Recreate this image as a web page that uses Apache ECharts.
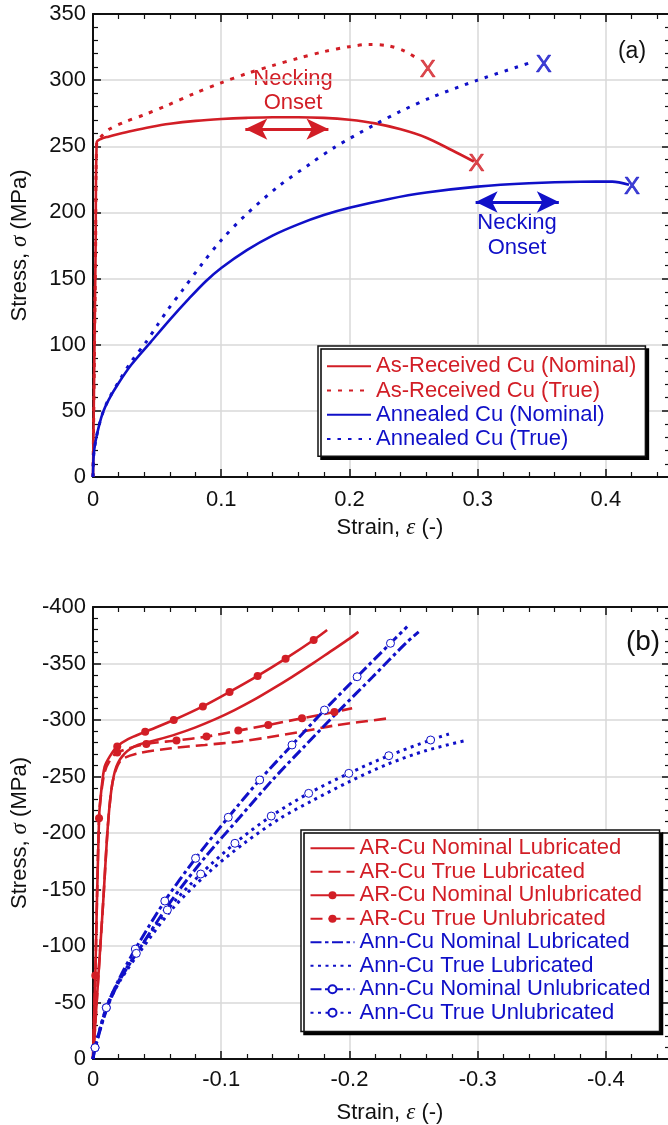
<!DOCTYPE html>
<html><head><meta charset="utf-8">
<script src="https://cdn.jsdelivr.net/npm/echarts@6/dist/echarts.min.js"></script>
<style>html,body{margin:0;padding:0;background:#fff}#c{width:668px;height:1125px}</style>
</head><body><div id="c"></div>
<script>
// ================= Panel (a): tension =================
const arNomStrain  = [0, 0.001, 0.002, 0.0029, 0.006, 0.012, 0.02, 0.03, 0.045, 0.06, 0.08, 0.1, 0.12, 0.14, 0.16, 0.18, 0.2, 0.22, 0.24, 0.26, 0.28, 0.297];
const arNomStress  = [0, 85, 170, 253, 255.5, 257.3, 259.3, 261.6, 264.6, 267, 269.2, 270.6, 271.5, 272, 272, 271.5, 270, 267.3, 262.8, 256.5, 247, 238.5];
const arTrueStrain = [0, 0.001, 0.002, 0.0029, 0.006, 0.013, 0.025, 0.04, 0.058, 0.078, 0.1, 0.12, 0.14, 0.16, 0.18, 0.2, 0.215, 0.23, 0.243, 0.255];
const arTrueStress = [0, 85, 170, 253, 257, 263, 268.5, 273.8, 281, 289.5, 298, 305, 311, 316.5, 321.5, 325.3, 327, 326, 322, 315];
const annNomStrain = [0, 0.0005, 0.002, 0.005, 0.0078, 0.012, 0.02, 0.03, 0.045, 0.06, 0.075, 0.088, 0.1, 0.12, 0.14, 0.16, 0.18, 0.2, 0.23, 0.26, 0.3, 0.34, 0.38, 0.405, 0.418];
const annNomStress = [0, 16, 27, 40, 49, 58, 71, 85, 102, 119, 135, 148, 158, 171.5, 182.5, 191, 198, 203.5, 210, 215, 219.5, 222, 223.2, 223.3, 221];
const annTrueStrain = [0, 0.0005, 0.002, 0.005, 0.0078, 0.012, 0.02, 0.03, 0.041, 0.05, 0.058, 0.07, 0.085, 0.1, 0.119, 0.145, 0.169, 0.188, 0.219, 0.24, 0.264, 0.3, 0.342];
const annTrueStress = [0, 16, 27, 40, 49, 58.5, 72, 87.5, 101.5, 114.5, 126, 141.5, 161, 179, 198, 220, 236.5, 249, 266, 276.5, 287, 300, 313.5];
// fracture marks (X)
const arFracStrain  = [0.261, 0.299];
const arFracStress  = [307.7, 236.6];
const annFracStrain = [0.3516, 0.4203];
const annFracStress = [311.4, 219.2];
// necking-onset arrows (tip to tip)
const arArrowStrain  = [0.1188, 0.1836];
const arArrowStress  = 263;
const annArrowStrain = [0.2984, 0.3633];
const annArrowStress = 207.9;
const legendA = ['As-Received Cu (Nominal)', 'As-Received Cu (True)', 'Annealed Cu (Nominal)', 'Annealed Cu (True)'];

// ================= Panel (b): compression =================
const arNomLubStrain  = [0, -0.004, -0.008, -0.0115, -0.0143, -0.0182, -0.0248, -0.035, -0.05, -0.065, -0.08, -0.095, -0.11, -0.125, -0.14, -0.155, -0.17, -0.185, -0.2, -0.207];
const arNomLubStress  = [0, -70, -140, -205, -238, -258.7, -270.5, -278, -282.5, -287.5, -293.5, -300.5, -308.5, -317.5, -327.5, -338, -349, -360.5, -372, -378];
const arTrueLubStrain = [0, -0.004, -0.008, -0.0115, -0.0143, -0.017, -0.0221, -0.0352, -0.0612, -0.0873, -0.1133, -0.1357, -0.1617, -0.1877, -0.2307];
const arTrueLubStress = [0, -70, -140, -205, -238, -253, -264.6, -270.5, -275, -277.9, -280.8, -284.5, -289.5, -295, -301.5];
const arNomUnlStrain  = [0, -0.0018, -0.0047, -0.0065, -0.0091, -0.013, -0.0189, -0.0273, -0.0407, -0.063, -0.0857, -0.1065, -0.1284, -0.1502, -0.1721, -0.1826];
const arNomUnlStress  = [0, -74, -213, -238, -258.7, -267.6, -276.5, -283, -289.5, -300, -312, -324.8, -339, -354.3, -370.8, -379.6];
const arNomUnlMarks   = [1, 2, 6, 8, 9, 10, 11, 12, 13, 14];
const arTrueUnlStrain = [0, -0.0018, -0.0047, -0.0065, -0.0091, -0.013, -0.0189, -0.0416, -0.0651, -0.0885, -0.1133, -0.1367, -0.163, -0.1883, -0.2021];
const arTrueUnlStress = [0, -74, -213, -236, -254, -264, -271.2, -278.8, -281.8, -285.3, -290.6, -295.6, -301.5, -307.1, -310.4];
const arTrueUnlMarks  = [6, 7, 8, 9, 10, 11, 12, 13];
const annNomLubStrain  = [0, -0.0017, -0.011, -0.021, -0.036, -0.061, -0.087, -0.1145, -0.14, -0.166, -0.1925, -0.218, -0.244, -0.254];
const annNomLubStress  = [0, -10, -45, -70, -97, -140, -178, -214, -247, -278, -309, -338, -368, -378];
const annTrueLubStrain = [0, -0.0017, -0.011, -0.021, -0.036, -0.062, -0.09, -0.118, -0.146, -0.17, -0.2, -0.23, -0.26, -0.2893];
const annTrueLubStress = [0, -10, -46, -69, -94, -133, -165, -191, -213, -228, -245.5, -261, -273, -281.5];
const annNomUnlStrain  = [0, -0.0016, -0.0104, -0.02, -0.033, -0.056, -0.08, -0.1055, -0.13, -0.1552, -0.1805, -0.206, -0.232, -0.245];
const annNomUnlStress  = [0, -10, -45.4, -70, -97.3, -139.8, -177.6, -213.9, -246.9, -277.9, -308.8, -338.3, -367.9, -382.6];
const annNomUnlMarks   = [1, 2, 4, 5, 6, 7, 8, 9, 10, 11, 12];
const annTrueUnlStrain = [0, -0.0016, -0.0104, -0.02, -0.0338, -0.058, -0.084, -0.1107, -0.139, -0.1682, -0.1995, -0.2307, -0.2633, -0.2776];
const annTrueUnlStress = [0, -10, -45.4, -69, -93.5, -131.9, -163.7, -190.9, -215, -235.1, -252.8, -268.4, -282.3, -287.6];
const annTrueUnlMarks  = [1, 2, 4, 5, 6, 7, 8, 9, 10, 11, 12];
const legendB = ['AR-Cu Nominal Lubricated', 'AR-Cu True Lubricated', 'AR-Cu Nominal Unlubricated', 'AR-Cu True Unlubricated',
                 'Ann-Cu Nominal Lubricated', 'Ann-Cu True Lubricated', 'Ann-Cu Nominal Unlubricated', 'Ann-Cu True Unlubricated'];
const legendBMarkers = [false, false, true, true, false, false, true, true];

// ================= styling =================
const RED = '#d21e26', BLUE = '#1010c8', INK = '#111';
const FONT = "'Liberation Sans', Arial, Helvetica, sans-serif";
const SERIF = "'Liberation Serif', 'DejaVu Serif', serif";

function fmt(v) {
  const r = Math.round(v * 1000) / 1000;
  if (Math.abs(Math.abs(r) - 0.45) < 1e-6) return '';
  return String(r);
}
function pts(xs, ys, marks) {
  return xs.map((x, i) => (marks && marks.indexOf(i) >= 0) ? { value: [x, ys[i]] } : { value: [x, ys[i]], symbol: 'none' });
}
function line(name, gi, xs, ys, color, type, width, marks, markerFill) {
  return {
    type: 'line', name, xAxisIndex: gi * 2, yAxisIndex: gi * 2,
    data: pts(xs, ys, marks), smooth: 0.3,
    showAllSymbol: true, symbol: marks ? 'circle' : 'none', symbolSize: 8,
    lineStyle: { color, type, width, cap: 'butt' },
    itemStyle: marks ? { color: markerFill || color, borderColor: color, borderWidth: markerFill ? 1 : 0 } : { color },
    emphasis: { disabled: true }, z: 3
  };
}
function mainX(gi, min, max, inverse, nameGap, margin) {
  return {
    type: 'value', gridIndex: gi, min, max, inverse, splitNumber: 5, position: 'bottom',
    name: 'Strain, {e|ε} (-)', nameLocation: 'middle', nameGap,
    nameTextStyle: { fontFamily: FONT, fontSize: 22, color: INK, padding: [0, 0, 0, 17],
      rich: { e: { fontFamily: SERIF, fontStyle: 'italic', fontSize: 23, color: INK } } },
    axisLine: { show: true, onZero: false, lineStyle: { color: INK, width: 2 } },
    axisTick: { show: true, inside: true, length: 8, lineStyle: { color: INK, width: 1.5 } },
    minorTick: { show: true, splitNumber: 5, length: 5, lineStyle: { color: INK, width: 1.2 } },
    axisLabel: { show: true, margin, fontFamily: FONT, fontSize: 22, color: INK, formatter: fmt },
    splitLine: { show: true, lineStyle: { color: '#d9d9d9', width: 1.5 } }
  };
}
function mirrorX(gi, min, max, inverse) {
  return {
    type: 'value', gridIndex: gi, min, max, inverse, splitNumber: 5, position: 'top',
    axisLine: { show: true, onZero: false, lineStyle: { color: INK, width: 2 } },
    axisTick: { show: true, inside: true, length: 8, lineStyle: { color: INK, width: 1.5 } },
    minorTick: { show: true, splitNumber: 5, length: 5, lineStyle: { color: INK, width: 1.2 } },
    axisLabel: { show: false }, splitLine: { show: false }
  };
}
function mainY(gi, min, max, inverse) {
  return {
    type: 'value', gridIndex: gi, min, max, inverse, interval: 50, position: 'left',
    name: 'Stress, {s|σ} (MPa)', nameLocation: 'middle', nameGap: 62, nameRotate: 90,
    nameTextStyle: { fontFamily: FONT, fontSize: 22, color: INK,
      rich: { s: { fontFamily: SERIF, fontStyle: 'italic', fontSize: 23, color: INK } } },
    axisLine: { show: true, onZero: false, lineStyle: { color: INK, width: 2 } },
    axisTick: { show: true, inside: true, length: 8, lineStyle: { color: INK, width: 1.5 } },
    minorTick: { show: true, splitNumber: 5, length: 5, lineStyle: { color: INK, width: 1.2 } },
    axisLabel: { show: true, margin: 7, fontFamily: FONT, fontSize: 22, color: INK },
    splitLine: { show: true, lineStyle: { color: '#d9d9d9', width: 1.5 } }
  };
}
function mirrorY(gi, min, max, inverse) {
  return {
    type: 'value', gridIndex: gi, min, max, inverse, interval: 50, position: 'right',
    axisLine: { show: true, onZero: false, lineStyle: { color: INK, width: 2 } },
    axisTick: { show: true, inside: true, length: 8, lineStyle: { color: INK, width: 1.5 } },
    minorTick: { show: true, splitNumber: 5, length: 5, lineStyle: { color: INK, width: 1.2 } },
    axisLabel: { show: false }, splitLine: { show: false }
  };
}
function fracture(gi, xs, ys, color) {
  return {
    type: 'scatter', xAxisIndex: gi * 2, yAxisIndex: gi * 2, data: xs.map((x, i) => [x, ys[i]]),
    symbolSize: 1, itemStyle: { color: 'rgba(0,0,0,0)' }, z: 5,
    label: { show: true, position: 'inside', formatter: 'X', fontFamily: FONT, fontSize: 24, color,
             textBorderColor: color, textBorderWidth: 0.7 },
    emphasis: { disabled: true }
  };
}
function arrow(xs, y, color) {
  return {
    silent: true, symbol: ['arrow', 'arrow'], symbolSize: [16, 22], animation: false,
    label: { show: false }, lineStyle: { color, width: 3, type: 'solid' },
    data: [[{ coord: [xs[0], y] }, { coord: [xs[1], y] }]]
  };
}
const legendBase = {
  orient: 'vertical', itemWidth: 44, itemHeight: 10, itemGap: 0, selectedMode: false,
  backgroundColor: '#fff', borderColor: INK, borderWidth: 1.5, borderRadius: 0,
  shadowColor: '#000', shadowOffsetX: 3, shadowOffsetY: 3, shadowBlur: 0
};
const aColors = [RED, RED, BLUE, BLUE];
const bColors = [RED, RED, RED, RED, BLUE, BLUE, BLUE, BLUE];
const hiddenMark = { opacity: 0 };

const sA0 = line(legendA[0], 0, arNomStrain, arNomStress, RED, 'solid', 2.6);
sA0.markLine = arrow(arArrowStrain, arArrowStress, RED);
const sA2 = line(legendA[2], 0, annNomStrain, annNomStress, BLUE, 'solid', 2.6);
sA2.markLine = arrow(annArrowStrain, annArrowStress, BLUE);

const option = {
  animation: false,
  backgroundColor: '#fff',
  textStyle: { fontFamily: FONT },
  grid: [
    { left: 93, top: 14, width: 577, height: 463, outerBoundsMode: 'none', containLabel: false },
    { left: 93, top: 607, width: 577, height: 452, outerBoundsMode: 'none', containLabel: false }
  ],
  xAxis: [mainX(0, 0, 0.45, false, 39, 12), mirrorX(0, 0, 0.45, false),
          mainX(1, -0.45, 0, true, 42, 10), mirrorX(1, -0.45, 0, true)],
  yAxis: [mainY(0, 0, 350, false), mirrorY(0, 0, 350, false),
          mainY(1, -400, 0, true), mirrorY(1, -400, 0, true)],
  legend: [
    Object.assign({}, legendBase, {
      left: 318, top: 346, padding: [8, 9, 5, 8],
      data: legendA.map((n, i) => ({ name: n, textStyle: { color: aColors[i] }, itemStyle: hiddenMark })),
      textStyle: { fontFamily: FONT, fontSize: 22, lineHeight: 24.3 }
    }),
    Object.assign({}, legendBase, {
      left: 301, top: 830, padding: [6.5, 9, 7, 8.5],
      data: legendB.map((n, i) => legendBMarkers[i]
        ? { name: n, textStyle: { color: bColors[i] } }
        : { name: n, textStyle: { color: bColors[i] }, itemStyle: hiddenMark }),
      textStyle: { fontFamily: FONT, fontSize: 22, lineHeight: 23.5 }
    })
  ],
  graphic: [
    { type: 'text', x: 293, y: 67, style: { text: 'Necking\nOnset', fill: RED, fontFamily: FONT, fontSize: 22, lineHeight: 24, align: 'center', verticalAlign: 'top' } },
    { type: 'text', x: 517, y: 210.5, style: { text: 'Necking\nOnset', fill: BLUE, fontFamily: FONT, fontSize: 22, lineHeight: 25, align: 'center', verticalAlign: 'top' } },
    { type: 'text', x: 632, y: 52, style: { text: '(a)', fill: INK, fontFamily: FONT, fontSize: 23, align: 'center', verticalAlign: 'middle' } },
    { type: 'text', x: 643, y: 642, style: { text: '(b)', fill: INK, fontFamily: FONT, fontSize: 28, align: 'center', verticalAlign: 'middle' } }
  ],
  series: [
    sA0,
    line(legendA[1], 0, arTrueStrain, arTrueStress, RED, [4, 7], 3),
    sA2,
    line(legendA[3], 0, annTrueStrain, annTrueStress, BLUE, [3.5, 7], 3),
    fracture(0, arFracStrain, arFracStress, RED),
    fracture(0, annFracStrain, annFracStress, BLUE),

    line(legendB[0], 1, arNomLubStrain, arNomLubStress, RED, 'solid', 2.6),
    line(legendB[1], 1, arTrueLubStrain, arTrueLubStress, RED, [12, 6], 2.6),
    line(legendB[2], 1, arNomUnlStrain, arNomUnlStress, RED, 'solid', 2.6, arNomUnlMarks),
    line(legendB[3], 1, arTrueUnlStrain, arTrueUnlStress, RED, [12, 6], 2.6, arTrueUnlMarks),
    line(legendB[4], 1, annNomLubStrain, annNomLubStress, BLUE, [11, 3.5, 3.5, 3.5], 3),
    line(legendB[5], 1, annTrueLubStrain, annTrueLubStress, BLUE, [3, 4.5], 3),
    line(legendB[6], 1, annNomUnlStrain, annNomUnlStress, BLUE, [11, 3.5, 3.5, 3.5], 3, annNomUnlMarks, '#fff'),
    line(legendB[7], 1, annTrueUnlStrain, annTrueUnlStress, BLUE, [3, 4.5], 3, annTrueUnlMarks, '#fff')
  ]
};
const chart = echarts.init(document.getElementById('c'), null, { renderer: 'canvas' });
chart.setOption(option);
</script>
</body></html>
